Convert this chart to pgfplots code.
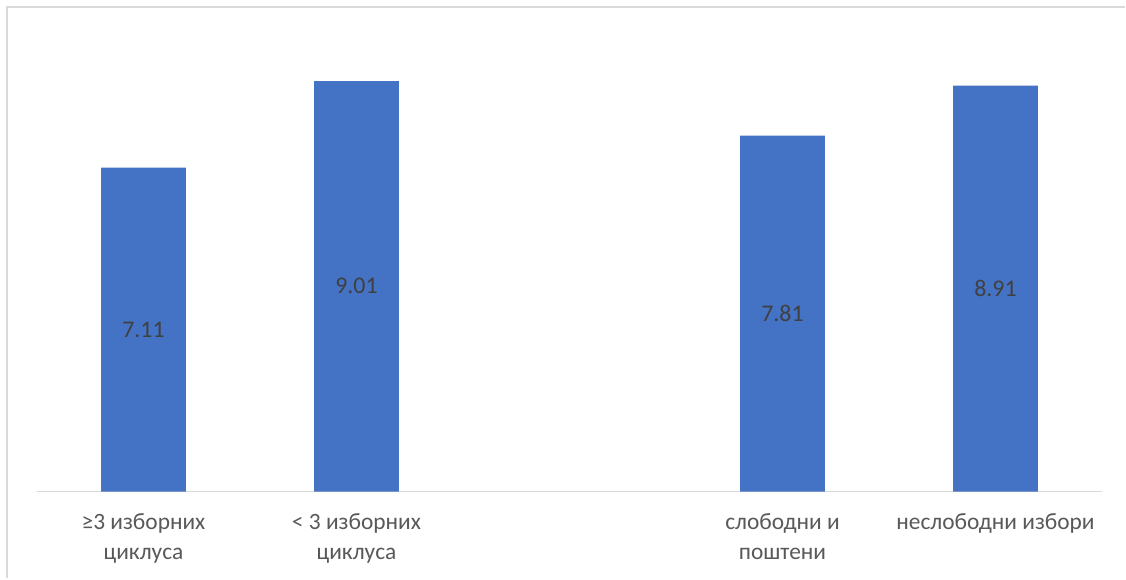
\documentclass[border=0pt]{standalone}
\usepackage{pgfplots}
\pgfplotsset{compat=1.18}
\usepackage{pgfplotstable}
\usepackage{fontspec}
\setmainfont{Carlito}
\definecolor{barblue}{HTML}{4472C4}
\definecolor{valgray}{HTML}{404040}
\definecolor{labgray}{HTML}{595959}
\definecolor{framegray}{HTML}{D9D9D9}
\definecolor{axisgray}{HTML}{D9D9D9}
\pgfplotstableread{
x y
0 7.11
1 9.01
3 7.81
4 8.91
}\datatable
\begin{document}
\begin{tikzpicture}[x=1bp,y=1bp]
\fill[white] (0,0) rectangle (1126,579);
\draw[framegray, line width=2bp] (7,0) -- (7,572) -- (1126,572);
\begin{axis}[
  at={(37bp,87bp)}, anchor=south west,
  scale only axis,
  width=1066bp, height=456bp,
  xmin=-0.5, xmax=4.5, ymin=0, ymax=10,
  axis y line=none,
  axis x line*=bottom,
  axis line style={axisgray, line width=1bp, -},
  xtick={0,1,3,4},
  xticklabels={{≥3 изборних\\циклуса},{< 3 изборних\\циклуса},{слободни и\\поштени},{неслободни избори}},
  major tick length=0pt,
  xticklabel style={font=\fontsize{23.5}{30}\selectfont, text=labgray, align=center, anchor=north, yshift=-19bp},
  /pgf/number format/assume math mode=true,
  clip=false,
]
\addplot[ybar, bar width=85bp, fill=barblue, draw=none] table[x=x,y=y] {\datatable};
\addplot[draw=none, mark=none, nodes near coords, point meta=explicit,
  nodes near coords={\pgfmathprintnumber[fixed, precision=2, fixed zerofill, assume math mode=true]{\pgfplotspointmeta}},
  every node near coord/.style={anchor=center, font=\fontsize{24}{28}\selectfont, text=valgray}]
  table[x=x, y expr=\thisrow{y}/2, meta=y] {\datatable};
\end{axis}
\end{tikzpicture}
\end{document}
